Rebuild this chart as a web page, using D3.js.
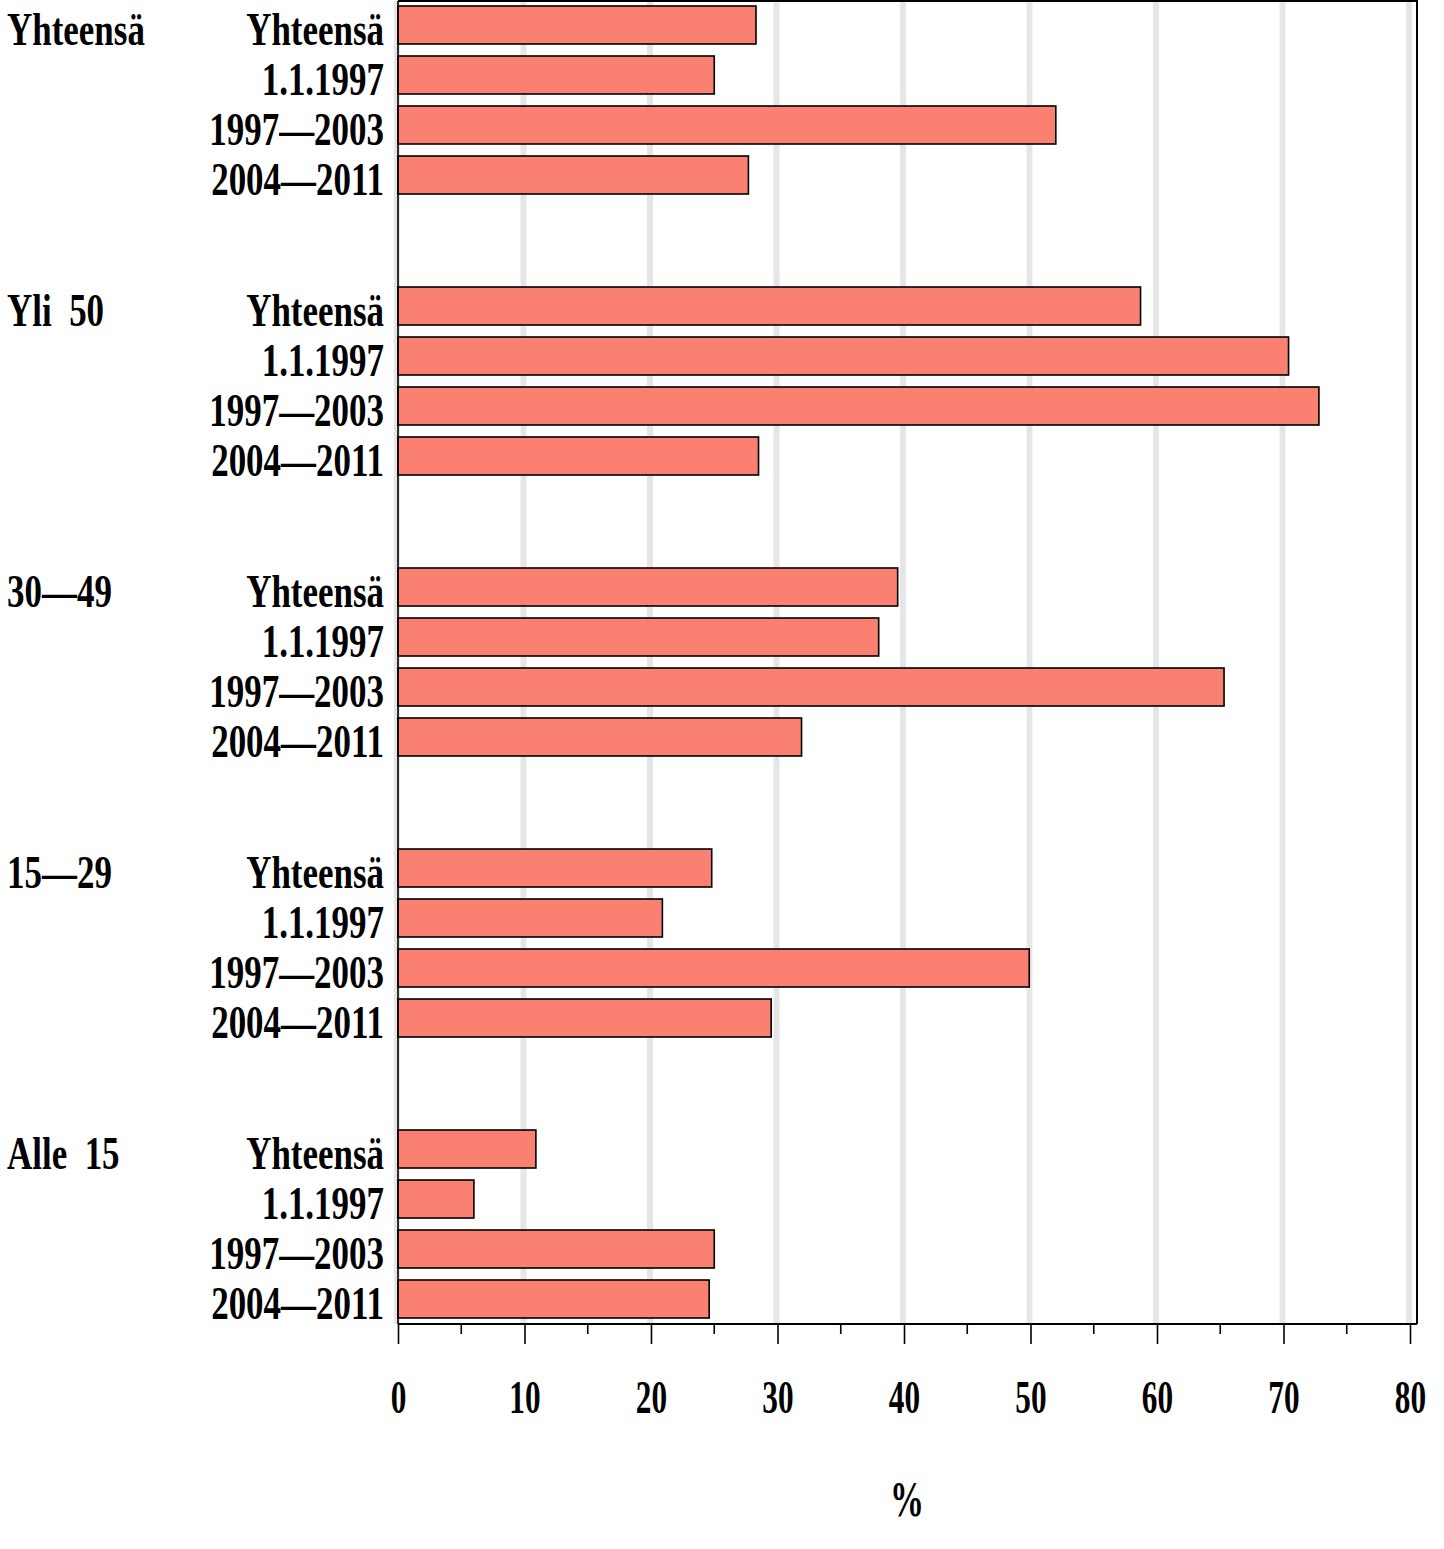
<!DOCTYPE html>
<html>
<head>
<meta charset="utf-8">
<script src="https://cdn.jsdelivr.net/npm/d3@7"></script>
<style>
  body { margin: 0; background: #fff; }
  text { font-family: "Liberation Serif", serif; font-weight: bold; fill: #000; }
</style>
</head>
<body>
<script>
// data
const groups = ["Yhteensä", "Yli  50", "30—49", "15—29", "Alle  15"];
const categories = ["Yhteensä", "1.1.1997", "1997—2003", "2004—2011"];
const valuesYhteensa = [28.3, 25.0, 52.0, 27.7];
const valuesYli50 = [58.7, 70.4, 72.8, 28.5];
const values30_49 = [39.5, 38.0, 65.3, 31.9];
const values15_29 = [24.8, 20.9, 49.9, 29.5];
const valuesAlle15 = [10.9, 6.0, 25.0, 24.6];
const xTicks = [0, 10, 20, 30, 40, 50, 60, 70, 80];
const xMinorTicks = [5, 15, 25, 35, 45, 55, 65, 75];
const xLabel = "%";

const allValues = [valuesYhteensa, valuesYli50, values30_49, values15_29, valuesAlle15];
const rows = [];
groups.forEach((g, gi) => categories.forEach((c, ci) => rows.push({group: g, cat: c, value: allValues[gi][ci]})));

const W = 1444, H = 1549;
const svg = d3.select("body").append("svg").attr("width", W).attr("height", H);

const x = d3.scaleLinear().domain([0, 80]).range([398, 1410]);
const yGroup = d3.scaleBand().domain(groups).range([6, 1318]).paddingInner(0.331).paddingOuter(0);
const yCat = d3.scaleBand().domain(categories).range([0, yGroup.bandwidth()]).paddingInner(0.24).paddingOuter(0);

const plotTop = 1, plotBottom = 1324, plotRight = 1417;
const sx = 0.76;

// gridlines
svg.append("g").selectAll("line").data(xTicks).join("line")
  .attr("x1", d => x(d) - 1).attr("x2", d => x(d) - 1)
  .attr("y1", plotTop).attr("y2", plotBottom)
  .attr("stroke", "#e6e6e6").attr("stroke-width", 6);

// frame
svg.append("path")
  .attr("d", `M${x(0)},${plotTop}H${plotRight}V${plotBottom}`)
  .attr("fill", "none").attr("stroke", "#000").attr("stroke-width", 2);

// bars
svg.append("g").selectAll("rect").data(rows).join("rect")
  .attr("x", x(0))
  .attr("y", d => yGroup(d.group) + yCat(d.cat))
  .attr("width", d => x(d.value) - x(0))
  .attr("height", yCat.bandwidth())
  .attr("fill", "#fa8072")
  .attr("stroke", "#000").attr("stroke-width", 1.6);

// left axis line
svg.append("line").attr("x1", x(0)).attr("x2", x(0)).attr("y1", plotTop).attr("y2", plotBottom)
  .attr("stroke", "#000").attr("stroke-width", 1.6);

// bottom axis
const xAxis = svg.append("g").attr("transform", `translate(0,${plotBottom})`)
  .call(d3.axisBottom(x).tickValues(xTicks).tickSize(20).tickSizeOuter(0).tickFormat(d3.format("d")));
xAxis.select(".domain").attr("stroke-width", 2).attr("d", `M${x(0)},0H${plotRight}`);
xAxis.selectAll(".tick line").attr("stroke-width", 1.6);
xAxis.selectAll(".tick text")
  .attr("y", 0).attr("dy", null)
  .attr("transform", `translate(0,89) scale(0.68,1)`)
  .style("font-size", "46px")
  .style("font-family", "Liberation Serif").style("font-weight", "bold");

svg.append("g").attr("transform", `translate(0,${plotBottom})`)
  .selectAll("line").data(xMinorTicks).join("line")
  .attr("x1", d => x(d)).attr("x2", d => x(d))
  .attr("y1", 0).attr("y2", 10)
  .attr("stroke", "#000").attr("stroke-width", 1.6);

// category labels
svg.append("g").selectAll("text").data(rows).join("text")
  .attr("transform", d => `translate(384,${yGroup(d.group) + yCat(d.cat) + yCat.bandwidth() / 2 + 20}) scale(${sx},1)`)
  .attr("text-anchor", "end")
  .style("font-size", "46px")
  .text(d => d.cat);

// group labels
svg.append("g").selectAll("text").data(groups).join("text")
  .attr("transform", d => `translate(7,${yGroup(d) + yCat.bandwidth() / 2 + 20}) scale(${sx},1)`)
  .style("font-size", "46px")
  .style("white-space", "pre")
  .text(d => d);

// axis title
svg.append("text")
  .attr("transform", `translate(${(x(0) + x(80)) / 2 + 3},1516) scale(0.68,1)`)
  .attr("text-anchor", "middle")
  .style("font-size", "50px")
  .text(xLabel);
</script>
</body>
</html>
